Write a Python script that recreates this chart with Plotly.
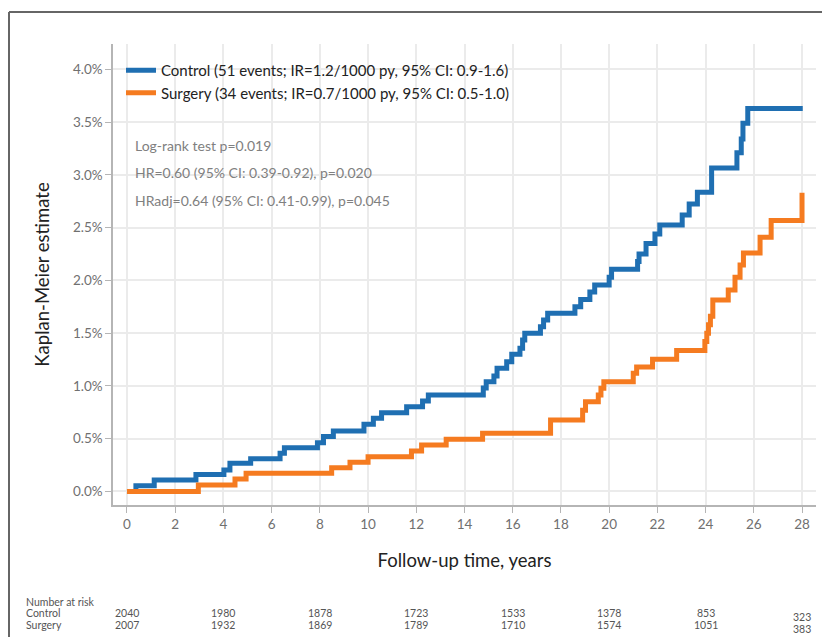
import plotly.graph_objects as go

# ---------------- data ----------------
control_t = [0, 0.37, 1.13, 2.86, 4.02, 4.27, 5.13, 6.35, 6.53, 7.9, 8.15, 8.56,
             9.83, 10.22, 10.56, 11.6, 12.26, 12.5, 14.78, 14.9, 15.22, 15.35,
             15.75, 15.96, 16.3, 16.41, 16.5, 17.15, 17.28, 17.45, 18.58, 18.82,
             19.2, 19.4, 20.0, 20.1, 21.18, 21.24, 21.53, 21.9, 22.1, 23.03,
             23.32, 23.66, 24.25, 25.3, 25.48, 25.55, 25.75, 28.03]
control_v = [0, 0.055, 0.109, 0.16, 0.204, 0.267, 0.311, 0.362, 0.415, 0.463, 0.52, 0.573,
             0.637, 0.694, 0.747, 0.804, 0.858, 0.915, 0.98, 1.04, 1.095, 1.168,
             1.23, 1.30, 1.357, 1.436, 1.50, 1.562, 1.625, 1.69, 1.75, 1.82,
             1.89, 1.957, 2.03, 2.106, 2.18, 2.25, 2.35, 2.44, 2.526, 2.62,
             2.725, 2.835, 3.064, 3.21, 3.34, 3.49, 3.63, 3.63]

surgery_t = [0, 2.96, 4.48, 4.94, 8.49, 9.25, 10.0, 11.8, 12.22, 13.24, 14.75, 17.57,
             18.9, 19.02, 19.55, 19.66, 19.78, 21.0, 21.14, 21.8, 22.8, 23.97, 24.05,
             24.12, 24.2, 24.3, 24.94, 25.22, 25.43, 25.57, 26.26, 26.72, 28.0]
surgery_v = [0, 0.062, 0.118, 0.172, 0.226, 0.277, 0.33, 0.384, 0.44, 0.495, 0.552, 0.678,
             0.77, 0.85, 0.915, 0.978, 1.04, 1.12, 1.18, 1.253, 1.335, 1.42, 1.5,
             1.58, 1.66, 1.815, 1.91, 2.03, 2.147, 2.26, 2.41, 2.567, 2.83]

control_label = "Control (51 events; IR=1.2/1000 py, 95% CI: 0.9-1.6)"
surgery_label = "Surgery (34 events; IR=0.7/1000 py, 95% CI: 0.5-1.0)"
stats_lines = ["Log-rank test p=0.019",
               "HR=0.60 (95% CI: 0.39-0.92), p=0.020",
               "HRadj=0.64 (95% CI: 0.41-0.99), p=0.045"]

risk_times = [0, 4, 8, 12, 16, 20, 24, 28]
risk_control = [2040, 1980, 1878, 1723, 1533, 1378, 853, 323]
risk_surgery = [2007, 1932, 1869, 1789, 1710, 1574, 1051, 383]

x_ticks = list(range(0, 29, 2))
y_ticks = [0, 0.5, 1.0, 1.5, 2.0, 2.5, 3.0, 3.5, 4.0]
y_ticktext = [f"{v:.1f}%" for v in y_ticks]

# ---------------- figure ----------------
FONT = "Lato"
BLUE = "#1f6fb2"
ORANGE = "#f57b20"
OFF = 8  # page body margin

fig = go.Figure()
fig.add_trace(go.Scatter(x=control_t, y=control_v, mode="lines", line_shape="hv",
                         name=control_label, line=dict(color=BLUE, width=5)))
fig.add_trace(go.Scatter(x=surgery_t, y=surgery_v, mode="lines", line_shape="hv",
                         name=surgery_label, line=dict(color=ORANGE, width=5)))

W, H = 830 - OFF, 637 - OFF
L, T = 113 - OFF, 44 - OFF
R = W - (816 - OFF)
B = H - (505 - OFF)
pw, ph = W - L - R, H - T - B


def xp(px):  # px in reference-screen coordinates
    return (px - OFF - L) / pw


def yp(py):
    return (H - B - (py - OFF)) / ph


annotations = []
for i, s in enumerate(stats_lines):
    annotations.append(dict(text=s, xref="paper", yref="paper", x=xp(133),
                            y=yp(145 + i * 27.5), xanchor="left", yanchor="middle",
                            showarrow=False, font=dict(family=FONT, size=14, color="#808080")))

annotations.append(dict(text="Number at risk", xref="paper", yref="paper", x=xp(24), y=yp(602),
                        xanchor="left", yanchor="middle", showarrow=False,
                        font=dict(family=FONT, size=10.5, color="#555555")))
for name, row_y in (("Control", 613), ("Surgery", 625)):
    annotations.append(dict(text=name, xref="paper", yref="paper", x=xp(24), y=yp(row_y),
                            xanchor="left", yanchor="middle", showarrow=False,
                            font=dict(family=FONT, size=10.5, color="#555555")))
for vals, row_y in ((risk_control, 613), (risk_surgery, 625)):
    for j, (t, v) in enumerate(zip(risk_times, vals)):
        annotations.append(dict(text=str(v), xref="x", yref="paper", x=t, y=yp(row_y),
                                xanchor="center", yanchor="middle", showarrow=False,
                                yshift=-4 if j == len(risk_times) - 1 else 0,
                                font=dict(family=FONT, size=10.5, color="#555555")))

shapes = [
    dict(type="line", xref="paper", yref="paper", x0=xp(9), x1=xp(840), y0=yp(12), y1=yp(12),
         line=dict(color="#666666", width=2)),
    dict(type="line", xref="paper", yref="paper", x0=xp(9), x1=xp(9), y0=yp(12), y1=yp(645),
         line=dict(color="#666666", width=2)),
]

fig.update_layout(
    width=W, height=H,
    margin=dict(l=L, r=R, t=T, b=B),
    paper_bgcolor="white", plot_bgcolor="white",
    font=dict(family=FONT, color="#333333"),
    showlegend=True,
    legend=dict(x=xp(121), y=yp(54), xanchor="left", yanchor="top",
                bgcolor="rgba(0,0,0,0)", font=dict(family=FONT, size=15, color="#222222"),
                tracegroupgap=0, itemwidth=30),
    annotations=annotations,
    shapes=shapes,
)

fig.update_xaxes(range=[-0.58, 28.58], tickvals=x_ticks, showgrid=True, gridcolor="#ebebeb",
                 gridwidth=2, zeroline=False, showline=True, linecolor="#b5b5b5", linewidth=1.5,
                 ticks="outside", ticklen=6, tickcolor="#b5b5b5",
                 tickfont=dict(family=FONT, size=13.5, color="#707070"),
                 title=dict(text="Follow-up time, years", standoff=23,
                            font=dict(family=FONT, size=18.5, color="#222222")))
fig.update_yaxes(range=[-0.128, 4.24], tickvals=y_ticks, ticktext=y_ticktext,
                 showgrid=True, gridcolor="#ebebeb", gridwidth=2, zeroline=False,
                 showline=True, linecolor="#b5b5b5", linewidth=1.5,
                 ticks="outside", ticklen=6, tickcolor="#b5b5b5",
                 tickfont=dict(family=FONT, size=13.5, color="#707070"),
                 title=dict(text="Kaplan-Meier estimate", standoff=18,
                            font=dict(family=FONT, size=18.5, color="#222222")))

fig.write_html("out.html")
